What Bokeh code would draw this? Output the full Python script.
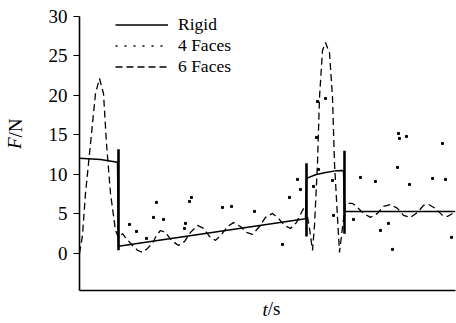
import math
from bokeh.plotting import figure
from bokeh.models import Range1d, FixedTicker, Legend, LegendItem, LinearAxis
from bokeh.embed import file_html
from bokeh.resources import INLINE

# ---- data ----
rigid_t = [0.00, 0.21, 0.38, 0.39, 2.26, 2.27, 2.36, 2.46, 2.56, 2.64, 2.65, 3.76]
rigid_f = [12.06, 11.90, 11.55, 0.90, 4.40, 9.50, 9.95, 10.25, 10.45, 10.50, 5.30, 5.30]

jump_t = [0.39, 2.27, 2.65]
jump_lo = [0.40, 2.15, 2.50]
jump_hi = [13.20, 11.40, 13.00]

four_t = [0.50, 0.57, 0.67, 0.74, 0.77, 0.84, 1.05, 1.06, 1.10, 1.12, 1.43, 1.52, 1.75,
          2.03, 2.10, 2.18, 2.21, 2.34, 2.37, 2.39, 2.38, 2.46, 2.53, 2.54, 2.74, 2.81,
          2.96, 3.01, 3.09, 3.13, 3.18, 3.19, 3.20, 3.27, 3.30, 3.53, 3.63, 3.66, 3.72]
four_f = [3.67, 2.78, 1.90, 4.56, 6.46, 4.30, 3.16, 3.80, 6.58, 7.09, 5.82, 5.95, 5.32,
          1.14, 7.09, 9.37, 8.10, 8.48, 14.68, 10.63, 19.24, 19.62, 9.24, 4.81, 4.30, 9.62,
          9.11, 2.91, 3.80, 0.51, 10.89, 15.19, 14.56, 14.81, 8.73, 9.49, 13.92, 9.37, 2.03]

six_t = [0.00, 0.03, 0.06, 0.11, 0.16, 0.20, 0.24, 0.27, 0.31, 0.36, 0.39, 0.43, 0.46,
         0.53, 0.58, 0.63, 0.68, 0.73, 0.77, 0.81, 0.86, 0.92, 0.99, 1.05, 1.11, 1.18,
         1.24, 1.30, 1.36, 1.42, 1.48, 1.54, 1.61, 1.67, 1.73, 1.80, 1.86, 1.93, 1.99,
         2.05, 2.11, 2.17, 2.23, 2.26, 2.30, 2.33, 2.35, 2.38, 2.40, 2.43, 2.46, 2.50,
         2.53, 2.55, 2.58, 2.60, 2.63, 2.66, 2.73, 2.78, 2.84, 2.91, 2.98, 3.04, 3.11,
         3.18, 3.24, 3.31, 3.38, 3.44, 3.49, 3.56, 3.63, 3.68, 3.73]
six_f = [0.00, 2.30, 7.60, 13.90, 20.25, 22.15, 20.25, 13.90, 7.60, 2.90, 2.00, 2.50, 2.00,
         1.00, 0.40, 0.13, 0.63, 1.27, 2.28, 2.90, 2.66, 1.65, 1.00, 1.50, 2.66, 3.54,
         3.16, 2.15, 1.65, 2.40, 3.40, 3.90, 3.40, 2.66, 2.40, 3.40, 4.56, 5.06, 4.43,
         3.54, 3.16, 3.92, 5.44, 6.08, 3.16, 0.38, 3.54, 11.40, 19.75, 25.70, 26.70, 25.40,
         19.75, 11.40, 4.56, 0.13, 3.30, 6.33, 6.33, 5.82, 5.06, 4.56, 5.06, 5.95, 6.20,
         5.70, 4.81, 4.56, 5.19, 6.08, 6.20, 5.70, 4.81, 4.68, 5.06]

y_ticks = [0, 5, 10, 15, 20, 25, 30]
series_names = ["Rigid", "4 Faces", "6 Faces"]
x_title = ("t", "/s")
y_title = ("F", "/N")

SERIF = "Liberation Serif"

p = figure(width=456, height=323, output_backend="svg", toolbar_location=None,
           x_range=Range1d(0, 3.76), y_range=Range1d(-4.7, 30),
           min_border_left=79, min_border_right=1, min_border_top=16, min_border_bottom=33)
p.outline_line_color = None
p.grid.visible = False

# axes
yax = p.yaxis[0]
yax.ticker = FixedTicker(ticks=y_ticks)
yax.minor_tick_line_color = None
yax.minor_tick_out = 0
yax.minor_tick_in = 0
yax.major_tick_in = 0
yax.major_tick_out = 6
yax.major_tick_line_color = "black"
yax.axis_line_color = "black"
yax.axis_line_width = 1.6
yax.major_label_standoff = 6
yax.major_label_text_font = SERIF
yax.major_label_text_font_size = "19px"
yax.major_label_text_color = "black"

xax = p.xaxis[0]
xax.ticker = FixedTicker(ticks=[])
xax.minor_tick_line_color = None
xax.major_tick_line_color = None
xax.major_tick_out = 0
xax.major_tick_in = 0
xax.minor_tick_out = 0
xax.minor_tick_in = 0
xax.major_label_standoff = 0
xax.major_label_text_font_size = "0px"
xax.axis_line_color = "black"
xax.axis_line_width = 1.6


# axis titles: italic symbol and upright unit, each as the single tick label of a bare axis
def title_axis(side, pos, text, italic, standoff, orientation):
    ax = LinearAxis(ticker=FixedTicker(ticks=[pos]), major_label_overrides={pos: text},
                    axis_line_color=None, major_tick_line_color=None,
                    major_tick_in=0, major_tick_out=0,
                    minor_tick_line_color=None, minor_tick_in=0, minor_tick_out=0,
                    major_label_standoff=standoff, major_label_orientation=orientation,
                    major_label_text_font=SERIF, major_label_text_font_size="19px",
                    major_label_text_color="black",
                    major_label_text_font_style="italic" if italic else "normal")
    p.add_layout(ax, side)


title_axis("left", 13.96, y_title[0], True, 20, "parallel")
title_axis("left", 15.89, y_title[1], False, -25, "parallel")
title_axis("below", 1.856, x_title[0], True, 8, "horizontal")
title_axis("below", 1.946, x_title[1], False, -25, "horizontal")

# series
r_six = p.line(six_t, six_f, line_color="black", line_width=1.3, line_dash="7 4")
r_four = p.scatter(four_t, four_f, marker="square", size=2, color="black")
r_four_leg = p.line([float("nan")], [float("nan")], line_color="black", line_width=1.6,
                    line_dash="2 7")
r_rigid = p.line(rigid_t, rigid_f, line_color="black", line_width=1.5)
p.segment(x0=jump_t, y0=jump_lo, x1=jump_t, y1=jump_hi, line_color="black", line_width=2.6)

legend = Legend(items=[LegendItem(label=series_names[0], renderers=[r_rigid]),
                       LegendItem(label=series_names[1], renderers=[r_four_leg]),
                       LegendItem(label=series_names[2], renderers=[r_six])],
                location=(36, 213), orientation="vertical",
                glyph_width=53, glyph_height=19, label_height=19, spacing=0,
                label_standoff=10, padding=0, margin=0,
                border_line_color=None, background_fill_alpha=0,
                label_text_font=SERIF, label_text_font_size="17.5px",
                label_text_line_height=1.0, label_text_color="black")
p.add_layout(legend, "center")

open("out.html", "w").write(file_html(p, INLINE))
